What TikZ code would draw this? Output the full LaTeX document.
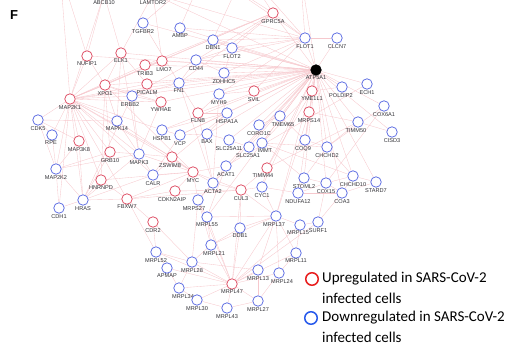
\documentclass[tikz,border=0pt]{standalone}
\usepackage{fontspec}
\newfontfamily\lblfont{Liberation Sans}
\newfontfamily\legfont{Carlito}
\definecolor{upc}{RGB}{222,78,100}
\definecolor{dnc}{RGB}{92,108,226}
\definecolor{edgec}{RGB}{246,200,205}
\definecolor{labc}{RGB}{50,50,55}
\definecolor{legred}{RGB}{232,30,30}
\definecolor{legblue}{RGB}{40,90,235}
\pgfdeclarelayer{bg}
\pgfsetlayers{bg,main}
\newcommand\gn[3]{\node[#1,label={[lab]below:#2}] (#2) at (#3) {};}
\newcommand\gnx[4]{\node[#1,label={[lab,xshift=#4]below:#2}] (#2) at (#3) {};}
\tikzset{
  gene/.style={circle, line width=0.75pt, minimum size=10.5pt, inner sep=0pt, fill=white},
  up/.style={gene, draw=upc},
  dn/.style={gene, draw=dnc},
  hub/.style={gene, draw=black, fill=black},
  lab/.style={font=\lblfont\fontsize{5.6}{6}\selectfont, text=labc, inner sep=0.3pt, label distance=0pt},
  edge/.style={draw=edgec, line width=0.35pt},
  legcirc/.style={circle, line width=1.5pt, minimum size=12.5pt, inner sep=0pt},
  legtext/.style={font=\legfont\fontsize{15}{16}\selectfont, text=black, inner sep=0pt, anchor=west},
}
\begin{document}
\begin{tikzpicture}[x=1pt,y=-1pt]
\clip (0,0) rectangle (518,345);
\node[font=\lblfont\bfseries\fontsize{13}{13}\selectfont, inner sep=0pt] (F) at (14,15) {F};
% off-picture genes
\gn{up}{ABCB10}{104,-6}
\gn{dn}{LAMTOR2}{153,-6}
\coordinate (T1) at (205,-30);
\coordinate (T2) at (245,-30);
\coordinate (T3) at (60,-30);
\coordinate (T4) at (300,-30);
% genes
\gn{up}{NUFIP1}{87,56}
\gn{up}{ELK1}{121,53}
\gn{up}{XPO1}{105,85}
\gn{up}{MAP2K1}{70,99}
\gn{dn}{TGFBR2}{143,23}
\gn{dn}{AMBP}{180,28}
\gn{dn}{DBN1}{213,40}
\gn{dn}{FLOT2}{232,48}
\gn{dn}{CD44}{196,60}
\gn{up}{TRIB3}{145,65}
\gnx{up}{LMO7}{162,61}{2pt}
\gn{dn}{ZDHHC5}{224,73}
\gn{up}{PICALM}{147,84}
\gn{dn}{FN1}{179,83}
\gn{dn}{MYH9}{219,94}
\gn{up}{SVIL}{254,91}
\gn{up}{YWHAE}{161,102}
\gnx{dn}{ERBB2}{132,96}{-2pt}
\gn{up}{GPRC5A}{273,13}
\gn{dn}{FLOT1}{305,38}
\gn{dn}{CLCN7}{337,38}
\gn{hub}{ATP5A1}{316,70}
\gn{up}{YME1L1}{312,91}
\gnx{dn}{POLDIP2}{342,87}{-1pt}
\gn{dn}{ECH1}{367,84}
\gn{dn}{COX6A1}{384,106}
\gn{dn}{CDK5}{38,120}
\gnx{dn}{RPE}{52,135}{-1pt}
\gn{up}{MAP3K8}{79,141}
\gn{up}{GRB10}{110,152}
\gn{dn}{MAPK14}{117,121}
\gn{dn}{MAP2K2}{56,169}
\gn{up}{HNRNPD}{101,180}
\gn{dn}{HRAS}{83,200}
\gn{dn}{CDH1}{59,208}
\gn{up}{FBXW7}{127,199}
\gn{up}{FLNB}{198,113}
\gn{dn}{HSPA1A}{227,113}
\gn{dn}{HSPB1}{162,130}
\gn{dn}{VCP}{180,135}
\gn{dn}{BAX}{207,134}
\gn{dn}{SLC25A11}{229,140}
\gnx{dn}{SLC25A1}{249,147}{-1pt}
\gn{dn}{MAPK3}{139,154}
\gnx{up}{ZSWIM8}{172,157}{-2pt}
\gn{up}{MYC}{193,172}
\gn{dn}{ACAT1}{226,166}
\gn{dn}{CALR}{153,175}
\gn{dn}{ACTA2}{213,183}
\gnx{up}{CDKN2AIP}{175,191}{-3pt}
\gnx{dn}{MRPS27}{198,200}{-4pt}
\gn{up}{CUL3}{241,190}
\gn{dn}{MRPL55}{207,217}
\gn{up}{CDR2}{153,222}
\gn{dn}{CORO1C}{259,125}
\gnx{dn}{IMMT}{262,143}{3pt}
\gnx{dn}{TMEM65}{280,116}{3pt}
\gn{up}{MRPS14}{309,112}
\gnx{dn}{TIMM50}{358,122}{-2pt}
\gn{dn}{CISD3}{392,132}
\gnx{dn}{COQ9}{305,140}{-2pt}
\gn{dn}{CHCHD2}{327,147}
\gnx{up}{TIMM44}{267,168}{-4pt}
\gn{dn}{CYC1}{262,187}
\gn{dn}{STOML2}{304,178}
\gn{dn}{CHCHD10}{353,176}
\gn{dn}{COX15}{326,183}
\gn{dn}{STARD7}{376,182}
\gn{dn}{COA3}{342,193}
\gn{dn}{NDUFA12}{298,193}
\gnx{dn}{MRPL37}{276,216}{-2pt}
\gn{dn}{SURF1}{318,222}
\gnx{dn}{MRPL15}{300,225}{-2pt}
\gn{dn}{DDB1}{240,228}
\gnx{dn}{MRPL21}{211,245}{3pt}
\gn{dn}{MRPL52}{156,252}
\gn{dn}{MRPL28}{192,262}
\gn{dn}{APMAP}{167,268}
\gnx{dn}{MRPL34}{179,288}{4pt}
\gn{up}{MRPL47}{232,284}
\gn{dn}{MRPL30}{197,300}
\gn{dn}{MRPL43}{227,308}
\gn{dn}{MRPL13}{258,270}
\gnx{dn}{MRPL24}{279,273}{3pt}
\gn{dn}{MRPL11}{296,253}
\gn{dn}{MRPL27}{258,301}
% legend
\node[legcirc, draw=legred] (LU) at (312,279) {};
\node[legtext] (LT1) at (322,279) {Upregulated in SARS-CoV-2};
\node[legtext] (LT2) at (322,298.5) {infected cells};
\node[legcirc, draw=legblue] (LD) at (311,318) {};
\node[legtext] (LT3) at (322,318) {Downregulated in SARS-CoV-2};
\node[legtext] (LT4) at (322,337) {infected cells};
% edges
\begin{pgfonlayer}{bg}
\foreach \b in {YME1L1,POLDIP2,ECH1,FLOT1,CLCN7,GPRC5A,COX6A1,TIMM50,CISD3,MRPS14,TMEM65,COQ9,CHCHD2,CHCHD10,STOML2,COX15,COA3,NDUFA12,CYC1,TIMM44,IMMT,SLC25A1,SLC25A11,ACAT1,CORO1C,SVIL,MYH9,ZDHHC5,FLOT2,DBN1,CD44,FN1,HSPA1A,FLNB,YWHAE,MAP2K1,BAX,VCP,XPO1,ERBB2,PICALM,LMO7,TRIB3,HSPB1,ELK1,NUFIP1,TGFBR2,AMBP,LAMTOR2,STARD7,MRPL37,MRPL55,MRPS27,T4}
  \draw[edge] (ATP5A1) -- (\b);
\foreach \b in {T1,T2,GPRC5A,FLOT2,DBN1,CD44,ZDHHC5,CLCN7,LAMTOR2,AMBP,MYH9,SVIL,T4}
  \draw[edge] (FLOT1) -- (\b);
\foreach \b in {T1,CD44,FN1,MAP2K1,XPO1,FLOT2,TRIB3,T2}
  \draw[edge] (GPRC5A) -- (\b);
\foreach \b in {ELK1,NUFIP1,XPO1,ERBB2,MAPK14,MAPK3,MAP3K8,GRB10,CDK5,RPE,MAP2K2,HRAS,YWHAE,PICALM,TRIB3,FN1,MYC,CALR,HSPB1,LMO7,ABCB10,HNRNPD,ZSWIM8,FBXW7,CDH1,T3}
  \draw[edge] (MAP2K1) -- (\b);
\foreach \a/\b in {XPO1/NUFIP1,XPO1/ELK1,XPO1/ERBB2,XPO1/YWHAE,XPO1/MAPK14,XPO1/GRB10,XPO1/HNRNPD,XPO1/MYC,
  ELK1/MAPK3,ELK1/MAPK14,ELK1/ABCB10,ELK1/LAMTOR2,ELK1/PICALM,NUFIP1/ABCB10,NUFIP1/T3,
  MAPK3/MAP2K2,MAPK3/HRAS,MAPK3/MAPK14,MAPK3/ZSWIM8,MAPK3/CALR,MAPK3/MYC,MAPK3/ERBB2,MAPK3/GRB10,MAPK3/YWHAE,
  MAP2K2/HRAS,MAP2K2/CDH1,MAP2K2/MAP3K8,MAP2K2/CDK5,MAP2K2/RPE,MAP2K2/GRB10,
  HRAS/CDH1,HRAS/MAP3K8,HRAS/FBXW7,HRAS/HNRNPD,HRAS/ERBB2,HRAS/GRB10,HRAS/CALR,
  CDK5/RPE,CDK5/MAP3K8,CDK5/MAPK14,
  MYC/FBXW7,MYC/CDKN2AIP,MYC/CUL3,MYC/ACTA2,MYC/HNRNPD,MYC/ZSWIM8,MYC/MAPK14,MYC/CALR,MYC/MRPS27,MYC/ACAT1,
  CUL3/FBXW7,CUL3/TIMM44,CUL3/CYC1,CUL3/ACTA2,CUL3/MRPL37,CUL3/DDB1,CUL3/CDKN2AIP,
  FBXW7/CDKN2AIP,FBXW7/CDR2,FBXW7/HNRNPD,FBXW7/MRPL52,
  VCP/HSPA1A,VCP/HSPB1,BAX/SLC25A11,HSPA1A/FLNB,HSPA1A/MYH9,FLNB/FN1,FLNB/MYH9,HSPB1/HSPA1A,VCP/BAX,VCP/CALR,HSPA1A/CALR,HSPA1A/BAX,
  ACTA2/MYH9,ACTA2/FN1,ACTA2/FLNB,ACTA2/ACAT1,
  CD44/FN1,CD44/ERBB2,CD44/FLOT2,FN1/TGFBR2,FN1/ERBB2,DBN1/FLOT2,ZDHHC5/FLOT2,ZDHHC5/CD44,MYH9/SVIL,TRIB3/LMO7,PICALM/YWHAE,ERBB2/YWHAE,TGFBR2/T1,AMBP/T1,DBN1/T2,LMO7/LAMTOR2,
  COQ9/CHCHD2,CHCHD2/CHCHD10,CHCHD10/COA3,CHCHD10/COX15,COX15/COA3,COX15/SURF1,SURF1/COA3,STOML2/NDUFA12,STOML2/CHCHD2,NDUFA12/CYC1,CYC1/TIMM44,TIMM44/TIMM50,TIMM50/CHCHD2,TIMM50/MRPS14,
  IMMT/CHCHD10,IMMT/CHCHD2,IMMT/STOML2,IMMT/SLC25A1,SLC25A1/SLC25A11,CORO1C/TMEM65,TMEM65/COQ9,MRPS14/MRPL37,MRPS14/COQ9,STARD7/CHCHD10,STARD7/COA3,CISD3/TIMM50,COX6A1/CHCHD2,COX6A1/COX15,ECH1/ACAT1,POLDIP2/YME1L1,YME1L1/IMMT,YME1L1/TIMM44,NDUFA12/COX15,STOML2/COX15,COA3/NDUFA12,
  MRPL47/MRPL34,MRPL47/MRPL30,MRPL47/MRPL43,MRPL47/MRPL28,MRPL47/MRPL21,MRPL47/MRPL27,MRPL47/MRPL24,MRPL47/MRPL13,MRPL47/MRPL11,MRPL47/MRPL15,MRPL47/MRPL37,MRPL47/MRPL55,MRPL47/MRPS27,MRPL47/MRPL52,MRPL47/DDB1,MRPL47/APMAP,MRPL47/SURF1,MRPL47/CUL3,
  MRPL37/MRPL11,MRPL37/MRPL15,MRPL37/MRPL24,MRPL37/MRPL13,MRPL37/MRPL21,MRPL37/MRPL55,MRPL15/MRPL11,MRPL11/MRPL24,MRPL24/MRPL27,MRPL13/MRPL27,MRPL13/MRPL28,MRPL28/MRPL34,MRPL28/MRPL52,MRPL28/MRPL21,MRPL21/MRPL55,MRPL55/MRPS27,MRPS27/MRPL28,MRPL34/MRPL30,MRPL30/MRPL43,MRPL43/MRPL27,MRPL52/APMAP,APMAP/MRPL34,CDR2/MRPL52,CDR2/MRPL28,DDB1/MRPL21,MRPL55/ACAT1,MRPS27/MRPL21,MRPL37/DDB1,MRPS27/ACTA2,MRPL15/SURF1,MRPL37/CYC1}
  \draw[edge] (\a) -- (\b);
\end{pgfonlayer}
\end{tikzpicture}
\end{document}
